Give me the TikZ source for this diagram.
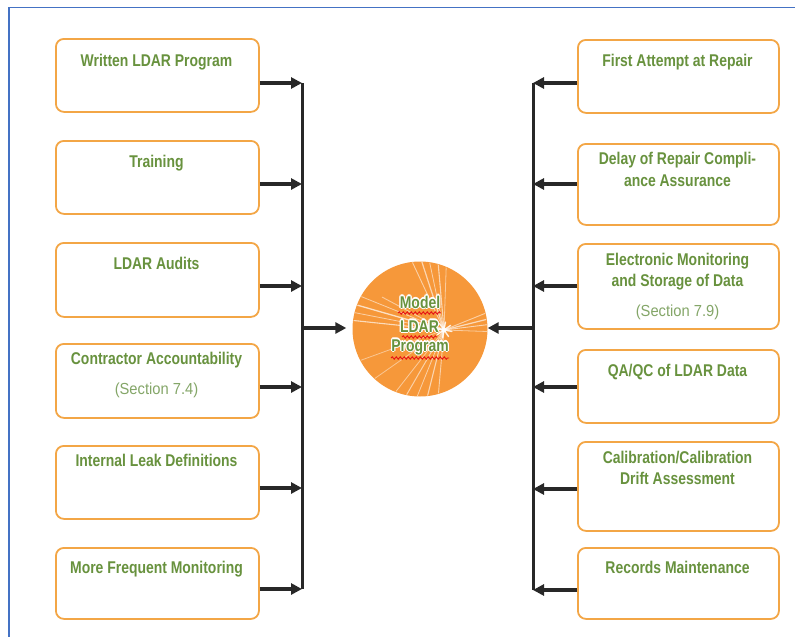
\documentclass[tikz,border=0pt]{standalone}
\usepackage{fontspec}
\setmainfont{Liberation Sans}
\newfontfamily\cfont{Liberation Sans}[FakeStretch=0.82]
\newfontfamily\sfont{Liberation Sans}[FakeStretch=0.92]
\usetikzlibrary{arrows.meta,decorations.pathmorphing}
\definecolor{tgreen}{RGB}{104,146,62}
\definecolor{sgreen}{RGB}{132,166,104}
\definecolor{borange}{RGB}{243,166,70}
\definecolor{corange}{RGB}{246,152,58}
\definecolor{fblue}{RGB}{68,114,196}
\definecolor{conn}{RGB}{40,40,40}
\definecolor{squigred}{RGB}{230,20,20}
\newcommand\gcopy[3]{\rlap{\kern#1\raise#2\hbox{\color{white}#3}}}
\newcommand\myglow[1]{\gcopy{1.3pt}{0pt}{#1}\gcopy{-1.3pt}{0pt}{#1}\gcopy{0pt}{1.3pt}{#1}\gcopy{0pt}{-1.3pt}{#1}%
  \gcopy{0.9pt}{0.9pt}{#1}\gcopy{-0.9pt}{0.9pt}{#1}\gcopy{0.9pt}{-0.9pt}{#1}\gcopy{-0.9pt}{-0.9pt}{#1}#1}
\tikzset{
  box/.style={draw=borange, line width=1.8pt, rounded corners=8pt, anchor=north west, inner sep=0pt, fill=white},
  lbl/.style={font=\cfont\bfseries\fontsize{17}{21}\selectfont, text=tgreen, anchor=base, inner sep=0pt},
  sec/.style={font=\sfont\fontsize{16}{20}\selectfont, text=sgreen, anchor=base, inner sep=0pt},
  ctext/.style={font=\cfont\bfseries\fontsize{17}{21}\selectfont, text=tgreen, anchor=base, inner sep=0pt},
  bus/.style={draw=conn, line width=3pt},
  arr/.style={draw=conn, line width=3.4pt, -{Triangle[length=11pt,width=11pt]}},
  squig/.style={draw=squigred, line width=0.9pt, decorate, decoration={snake, segment length=4pt, amplitude=1.2pt}},
  ray/.style={draw=white, line cap=round},
}
\begin{document}
\begin{tikzpicture}[x=1pt,y=-1pt]
\useasboundingbox (0,0) rectangle (795,637);
\draw[fblue, line width=1.6pt] (9,637) -- (9,7.5) -- (795,7.5);

% left boxes
\node[box, minimum width=203pt, minimum height=73pt] (L1) at (55,38) {};
\node[box, minimum width=203pt, minimum height=73pt] (L2) at (55,140) {};
\node[box, minimum width=203pt, minimum height=74pt] (L3) at (55,242) {};
\node[box, minimum width=203pt, minimum height=74pt] (L4) at (55,343) {};
\node[box, minimum width=203pt, minimum height=73pt] (L5) at (55,445) {};
\node[box, minimum width=203pt, minimum height=71pt] (L6) at (55,547) {};
\node[lbl] (L1t) at (156.5,66) {Written LDAR Program};
\node[lbl] (L2t) at (156.5,167) {Training};
\node[lbl] (L3t) at (156.5,269) {LDAR Audits};
\node[lbl] (L4t) at (156.5,364) {Contractor Accountability};
\node[sec] (L4s) at (156.5,394) {(Section 7.4)};
\node[lbl] (L5t) at (156.5,466) {Internal Leak Definitions};
\node[lbl] (L6t) at (156.5,573) {More Frequent Monitoring};

% right boxes
\node[box, minimum width=201pt, minimum height=73pt] (R1) at (577,39) {};
\node[box, minimum width=201pt, minimum height=81pt] (R2) at (577,143) {};
\node[box, minimum width=201pt, minimum height=85pt] (R3) at (577,243) {};
\node[box, minimum width=201pt, minimum height=73pt] (R4) at (577,349) {};
\node[box, minimum width=201pt, minimum height=89pt] (R5) at (577,441) {};
\node[box, minimum width=201pt, minimum height=71pt] (R6) at (577,547) {};
\node[lbl] (R1t) at (677.5,66) {First Attempt at Repair};
\node[lbl] (R2t) at (677.5,164) {Delay of Repair Compli-};
\node[lbl] (R2u) at (677.5,186) {ance Assurance};
\node[lbl] (R3t) at (677.5,265) {Electronic Monitoring};
\node[lbl] (R3u) at (677.5,286) {and Storage of Data};
\node[sec] (R3s) at (677.5,316) {(Section 7.9)};
\node[lbl] (R4t) at (677.5,376) {QA/QC of LDAR Data};
\node[lbl] (R5t) at (677.5,463) {Calibration/Calibration};
\node[lbl] (R5u) at (677.5,484) {Drift Assessment};
\node[lbl] (R6t) at (677.5,573) {Records Maintenance};

% central circle
\node[circle, fill=corange, minimum size=135pt, inner sep=0pt] (C) at (420,329) {};
\coordinate (B) at (444,330);
\begin{scope}
  \clip (C.center) circle (67pt);
  \foreach \a/\l/\w/\o in {
    186/95/1.1/0.65, 191/95/0.8/0.55, 196/90/1.3/0.7, 202/90/0.8/0.55, 208/70/0.9/0.5,
    245/100/0.9/0.55, 252/100/1.2/0.6, 258/100/0.8/0.55, 265/100/1.1/0.6, 272/100/0.8/0.5,
    338/60/0.9/0.55, 346/60/1.2/0.65, 353/60/0.9/0.6, 2/60/0.8/0.5,
    95/85/0.9/0.55, 104/90/1.1/0.6, 112/95/0.8/0.55, 120/95/1.0/0.55, 128/95/0.8/0.5,
    145/90/0.8/0.45, 160/90/0.8/0.45}
    \draw[ray, line width=\w pt, opacity=\o] (B) -- ++(\a:\l);
  \foreach \a in {0,45,...,315}
    \draw[ray, line width=1.4pt, opacity=0.85] (B) -- ++(\a+10:8);
  \fill[white, opacity=0.85] (B) circle (2.5pt);
\end{scope}

% circle text with white outline
\node[ctext] (Ct1) at (420,308) {\myglow{Model}};
\node[ctext] (Ct2) at (419.5,332) {\myglow{LDAR}};
\node[ctext] (Ct3) at (420,351) {\myglow{Program}};
\draw[squig] (398,313) -- (441,313);
\draw[squig] (402,337) -- (437,337);
\draw[squig] (391,358) -- (449,358);

% bus coordinates
\coordinate (bL1) at (302,83);
\coordinate (bL2) at (302,184);
\coordinate (bL3) at (302,286);
\coordinate (bL4) at (302,387);
\coordinate (bL5) at (302,488);
\coordinate (bL6) at (302,589);
\coordinate (bLc) at (302,328);
\coordinate (bR1) at (533,83);
\coordinate (bR2) at (533,184);
\coordinate (bR3) at (533,286);
\coordinate (bR4) at (533,387);
\coordinate (bR5) at (533,489);
\coordinate (bR6) at (533,590);
\coordinate (bRc) at (533,328);

\draw[bus] (bL1) -- (bL6);
\draw[bus] (bR1) -- (bR6);
\foreach \i in {1,...,6}{
  \draw[arr] (L\i.east |- bL\i) -- (bL\i);
  \draw[arr] (R\i.west |- bR\i) -- (bR\i);
}
\draw[arr, shorten >=6pt] (bLc) -- (bLc -| C.west);
\draw[arr] (bRc) -- (bRc -| C.east);
\end{tikzpicture}
\end{document}
